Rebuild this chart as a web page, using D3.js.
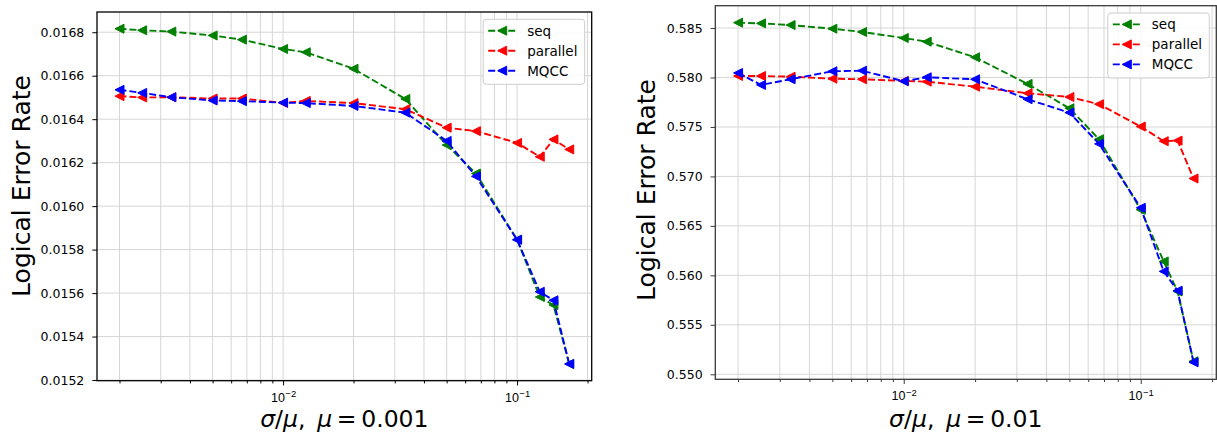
<!DOCTYPE html>
<html>
<head>
<meta charset="utf-8">
<script src="https://cdn.jsdelivr.net/npm/d3@7"></script>
<style>
  html, body { margin: 0; padding: 0; background: #ffffff; }
  svg { display: block; font-family: "DejaVu Sans", sans-serif; }
</style>
</head>
<body>
<svg id="chart" width="1217" height="433"></svg>
<script>
// ---- data ----
const sigmaOverMu = [0.002, 0.0025, 0.00333, 0.005, 0.00667, 0.01, 0.0125, 0.02, 0.0333, 0.05, 0.0667, 0.1, 0.125, 0.143, 0.167];
const seriesNames = ["seq", "parallel", "MQCC"];
const seriesColors = ["#008000", "#ff0000", "#0000ff"];

// mu = 0.001
const seqMu001 = [0.016816, 0.016809, 0.016803, 0.016785, 0.016766, 0.016723, 0.016708, 0.016632, 0.016493, 0.016281, 0.01615, 0.015846, 0.015582, 0.015545, 0.015274];
const parallelMu001 = [0.016506, 0.0165, 0.016501, 0.016495, 0.016495, 0.016475, 0.016484, 0.016474, 0.016446, 0.016361, 0.016345, 0.016291, 0.016227, 0.016307, 0.016261];
const mqccMu001 = [0.016535, 0.016521, 0.016501, 0.016486, 0.016483, 0.016476, 0.016474, 0.016461, 0.01643, 0.0163, 0.016137, 0.015845, 0.015606, 0.015567, 0.015274];

// mu = 0.01
const seqMu01 = [0.58554, 0.58547, 0.5853, 0.58493, 0.5846, 0.58399, 0.58362, 0.58204, 0.57935, 0.57689, 0.57376, 0.56663, 0.56141, 0.55838, 0.55131];
const parallelMu01 = [0.58015, 0.58015, 0.58008, 0.57988, 0.57982, 0.57965, 0.57958, 0.57907, 0.57841, 0.57803, 0.5773, 0.57504, 0.57356, 0.57362, 0.56979];
const mqccMu01 = [0.58046, 0.57925, 0.57982, 0.58063, 0.58069, 0.57962, 0.58002, 0.57982, 0.5778, 0.57645, 0.57329, 0.56683, 0.5604, 0.55845, 0.55121];

const yTicksMu001 = [0.0152, 0.0154, 0.0156, 0.0158, 0.0160, 0.0162, 0.0164, 0.0166, 0.0168];
const yTicksMu01 = [0.550, 0.555, 0.560, 0.565, 0.570, 0.575, 0.580, 0.585];
const xMajorTicks = [0.01, 0.1];
const xTickExponents = ["\u22122", "\u22121"];
const yLabelText = "Logical Error Rate";
const muLabels = ["0.001", "0.01"];

// ---- drawing ----
const svg = d3.select("#chart");

function drawPanel(cfg) {
  const { left, top, width, height, series, yTicks, yFmt, muText, spine, yLabelX, yLabelY } = cfg;
  const g = svg.append("g");

  // domains with 5% margins (matplotlib autoscale)
  const lx = d3.extent(sigmaOverMu).map(Math.log10);
  const lpad = (lx[1] - lx[0]) * 0.05;
  const allY = series.flat();
  const ey = d3.extent(allY);
  const ypad = (ey[1] - ey[0]) * 0.05;

  const x = d3.scaleLog().domain([Math.pow(10, lx[0] - lpad), Math.pow(10, lx[1] + lpad)]).range([left, left + width]);
  const y = d3.scaleLinear().domain([ey[0] - ypad, ey[1] + ypad]).range([top + height, top]);

  const clipId = "clip" + Math.round(left);
  svg.append("clipPath").attr("id", clipId).append("rect")
    .attr("x", left).attr("y", top).attr("width", width).attr("height", height);

  // minor ticks
  const xd = x.domain();
  const minor = [];
  for (let e = -3; e <= 0; e++) {
    for (let m = 1; m <= 9; m++) {
      const v = m * Math.pow(10, e);
      if (v >= xd[0] && v <= xd[1]) minor.push(v);
    }
  }

  const grid = g.append("g").attr("clip-path", `url(#${clipId})`);
  grid.selectAll("line.vx").data(minor).join("line")
    .attr("x1", d => x(d)).attr("x2", d => x(d))
    .attr("y1", top).attr("y2", top + height)
    .attr("stroke", "#d6d6d6").attr("stroke-width", 1);
  grid.selectAll("line.hy").data(yTicks).join("line")
    .attr("x1", left).attr("x2", left + width)
    .attr("y1", d => y(d)).attr("y2", d => y(d))
    .attr("stroke", "#d6d6d6").attr("stroke-width", 1);

  // x axis
  const xAxis = d3.axisBottom(x).tickValues(minor).tickSize(2.7).tickFormat("");
  const gx = g.append("g").attr("transform", `translate(0,${top + height})`).call(xAxis);
  gx.select(".domain").remove();
  gx.selectAll(".tick line").attr("stroke", spine).attr("stroke-width", 1)
    .attr("y2", d => xMajorTicks.some(t => Math.abs(t - d) < 1e-9) ? 4.7 : 2.7);
  gx.selectAll(".tick").each(function (d) {
    const idx = xMajorTicks.findIndex(t => Math.abs(t - d) < 1e-9);
    if (idx < 0) return;
    const t = d3.select(this).append("text")
      .attr("y", 21).attr("text-anchor", "middle")
      .attr("fill", "#000").style("font-size", "12.5px");
    t.append("tspan").text("10");
    t.append("tspan").attr("dy", "-0.5em").attr("dx", "0.5").style("font-size", "9.5px").text(xTickExponents[idx]);
  });

  // y axis
  const yAxis = d3.axisLeft(y).tickValues(yTicks).tickSize(4.7).tickPadding(8).tickFormat(yFmt);
  const gy = g.append("g").attr("transform", `translate(${left},0)`).call(yAxis);
  gy.select(".domain").remove();
  gy.selectAll(".tick line").attr("stroke", spine).attr("stroke-width", 1);
  gy.selectAll(".tick text").attr("fill", "#000").style("font-size", "12.5px")
    .attr("font-family", "DejaVu Sans");

  // lines and markers
  const line = d3.line().x((d, i) => x(sigmaOverMu[i])).y(d => y(d));
  const plot = g.append("g").attr("clip-path", `url(#${clipId})`);
  const tri = "M-4.5,0L4.5,-4.5L4.5,4.5Z";
  series.forEach((vals, si) => {
    plot.append("path").datum(vals).attr("d", line)
      .attr("fill", "none").attr("stroke", seriesColors[si])
      .attr("stroke-width", 1.9).attr("stroke-dasharray", "7,3");
    plot.selectAll(null).data(vals).join("path")
      .attr("d", tri)
      .attr("transform", (d, i) => `translate(${x(sigmaOverMu[i])},${y(d)})`)
      .attr("fill", seriesColors[si]).attr("stroke", seriesColors[si]).attr("stroke-width", 1);
  });

  // frame
  g.append("rect").attr("x", left).attr("y", top).attr("width", width).attr("height", height)
    .attr("fill", "none").attr("stroke", spine).attr("stroke-width", 1.3);

  // legend
  const lgW = 101.5, lgH = 65, lgR = left + width - 7, lgT = top + 7.3;
  const lg = g.append("g").attr("transform", `translate(${lgR - lgW},${lgT})`);
  lg.append("rect").attr("width", lgW).attr("height", lgH).attr("rx", 3)
    .attr("fill", "#ffffff").attr("fill-opacity", 0.85).attr("stroke", "#cccccc").attr("stroke-width", 1);
  seriesNames.forEach((name, si) => {
    const cy = 11.4 + si * 20;
    lg.append("line").attr("x1", 5).attr("x2", 33.5).attr("y1", cy).attr("y2", cy)
      .attr("stroke", seriesColors[si]).attr("stroke-width", 1.9).attr("stroke-dasharray", "7,3");
    lg.append("path").attr("d", tri).attr("transform", `translate(19,${cy})`)
      .attr("fill", seriesColors[si]).attr("stroke", seriesColors[si]).attr("stroke-width", 1);
    lg.append("text").attr("x", 44).attr("y", cy).attr("dy", "0.36em")
      .style("font-size", "13.5px").attr("fill", "#000").text(name);
  });

  // axis labels
  const xl = g.append("text").attr("x", left + width / 2).attr("y", 427)
    .attr("text-anchor", "middle").style("font-size", "23.5px").attr("fill", "#000");
  xl.append("tspan").style("font-style", "italic").text("\u03c3");
  xl.append("tspan").text("/");
  xl.append("tspan").style("font-style", "italic").text("\u03bc");
  xl.append("tspan").text(",\u2002");
  xl.append("tspan").style("font-style", "italic").text("\u03bc");
  xl.append("tspan").text("\u2009=\u2009" + muText);

  g.append("text").attr("transform", `translate(${yLabelX},${yLabelY}) rotate(-90)`)
    .attr("text-anchor", "middle").attr("dy", "0.36em")
    .style("font-size", "25px").attr("fill", "#000").text(yLabelText);
}

drawPanel({
  left: 97, top: 12, width: 494.7, height: 368.7,
  series: [seqMu001, parallelMu001, mqccMu001],
  yTicks: yTicksMu001, yFmt: d3.format(".4f"), muText: muLabels[0],
  spine: "#000000", yLabelX: 21, yLabelY: 186
});
drawPanel({
  left: 715.3, top: 5.7, width: 501, height: 373.6,
  series: [seqMu01, parallelMu01, mqccMu01],
  yTicks: yTicksMu01, yFmt: d3.format(".3f"), muText: muLabels[1],
  spine: "#3a3a3a", yLabelX: 646, yLabelY: 190
});
</script>
</body>
</html>
